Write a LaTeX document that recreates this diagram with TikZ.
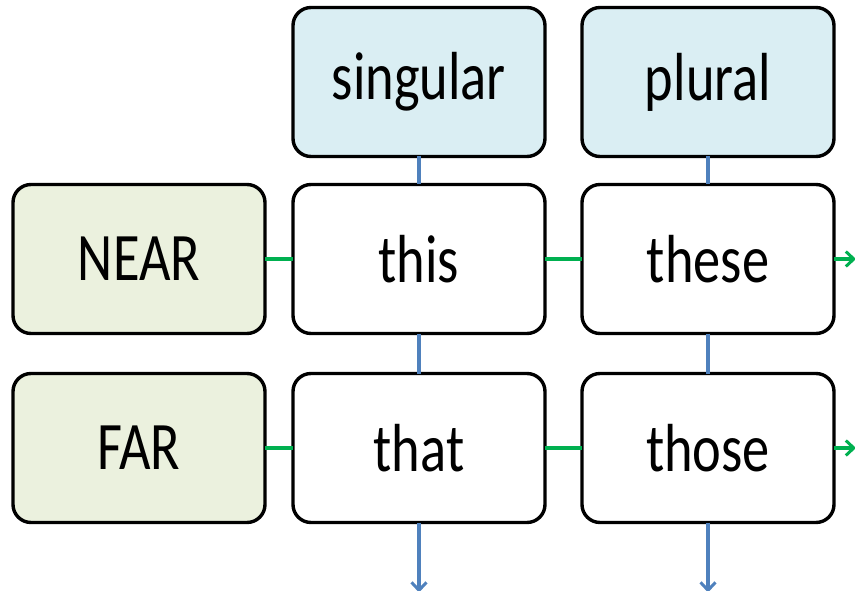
\documentclass[tikz,border=0pt]{standalone}
\usepackage{fontspec}
\setmainfont{Carlito}
\usetikzlibrary{arrows.meta,positioning}
\definecolor{headblue}{HTML}{DAEEF3}
\definecolor{headgreen}{HTML}{EBF1DE}
\definecolor{linkblue}{HTML}{4F81BD}
\definecolor{linkgreen}{HTML}{00B050}
\newcommand{\narrow}[1]{\scalebox{0.8}[1]{#1}}
\tikzstyle{cell}      = [rectangle, rounded corners=18pt, minimum width=252pt, minimum height=149pt, outer sep=0pt, text centered, draw=black, line width=3.4pt, fill=white, font=\fontsize{68}{72}\selectfont]
\tikzstyle{colhead}   = [cell, fill=headblue]
\tikzstyle{rowhead}   = [cell, fill=headgreen]
\tikzstyle{vlink}     = [draw=linkblue, line width=3.4pt]
\tikzstyle{hlink}     = [draw=linkgreen, line width=3.4pt]
\tikzstyle{arrow}     = [-{Straight Barb[length=8pt,width=15pt,line width=3pt]}]

\begin{document}
\begin{tikzpicture}[x=1pt,y=1pt]
				\useasboundingbox (0,0) rectangle (855,-591);
				\node (near) [rowhead] at (139,-259) {\narrow{NEAR}};
				\node (this) [cell, right=28pt of near] {\narrow{this}};
				\node (these) [cell, right=37pt of this] {\narrow{these}};
				\node (singular) [colhead, above=28pt of this] {\narrow{singular}};
				\node (plural) [colhead, above=28pt of these] {\narrow{plural}};
				\node (that) [cell, below=40pt of this] {\narrow{that}};
				\node (those) [cell, below=40pt of these] {\narrow{those}};
				\node (far) [rowhead, below=40pt of near] {\narrow{FAR}};
				\coordinate (thisend) at ([xshift=22pt]these.east);
				\coordinate (thatend) at ([xshift=22pt]those.east);
				\coordinate (leftend) at ([yshift=-70pt]that.south);
				\coordinate (rightend) at ([yshift=-70pt]those.south);
				
				\draw [vlink] (singular) -- (this);
				\draw [vlink] (this) -- (that);
				\draw [vlink,arrow] (that) -- (leftend);
				\draw [vlink] (plural) -- (these);
				\draw [vlink] (these) -- (those);
				\draw [vlink,arrow] (those) -- (rightend);
				\draw [hlink] (near) -- (this);
				\draw [hlink] (this) -- (these);
				\draw [hlink,arrow] (these) -- (thisend);
				\draw [hlink] (far) -- (that);
				\draw [hlink] (that) -- (those);
				\draw [hlink,arrow] (those) -- (thatend);
			\end{tikzpicture}
\end{document}
